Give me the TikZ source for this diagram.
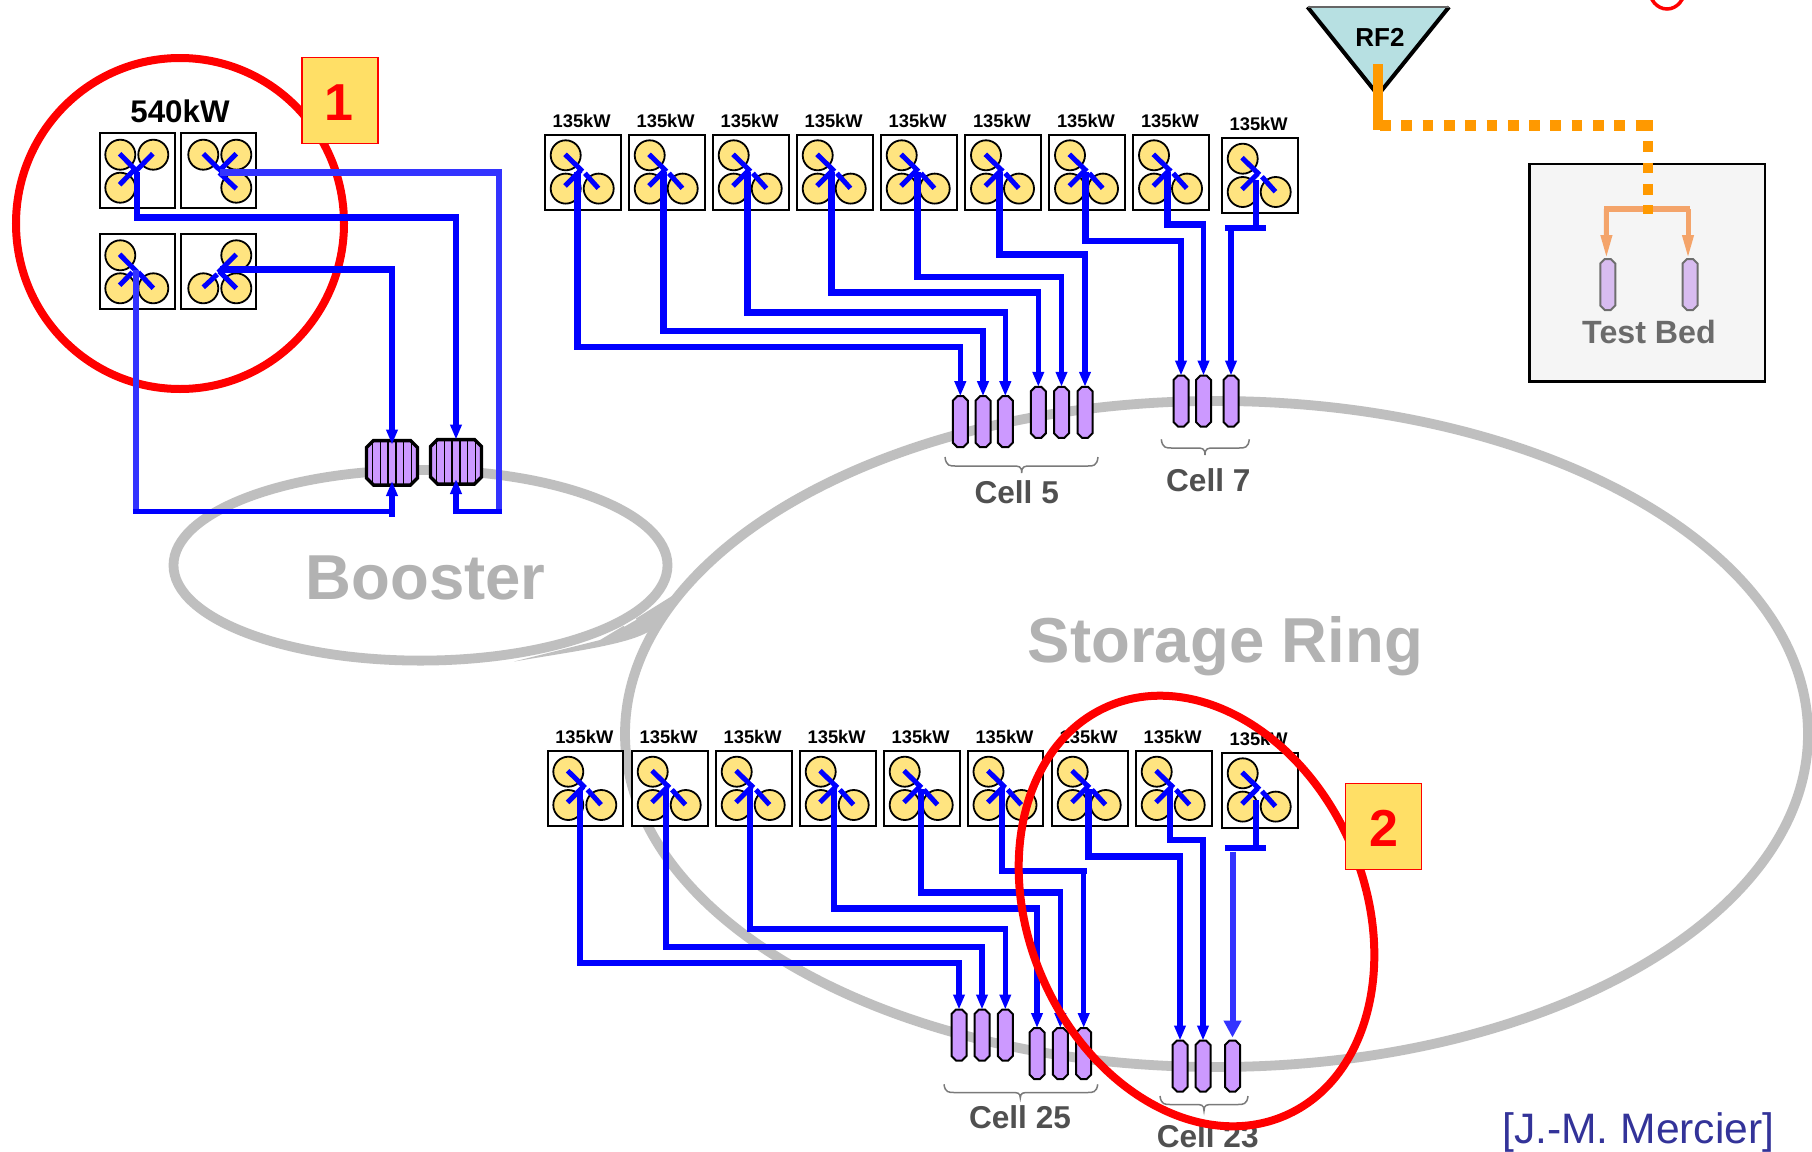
\documentclass[tikz,border=0pt]{standalone}
\usepackage{fontspec}
\setmainfont{Liberation Sans}
\usetikzlibrary{arrows.meta}
\definecolor{ringgrey}{HTML}{BFBFBF}
\definecolor{ringtext}{HTML}{B2B2B2}
\definecolor{bulbfill}{HTML}{FFE480}
\definecolor{violetfill}{HTML}{CC99FF}
\definecolor{palevioletfill}{HTML}{D8BCF0}
\definecolor{labelfill}{HTML}{FFDF66}
\definecolor{rffill}{HTML}{B7E0E2}
\definecolor{orangeline}{HTML}{FF9900}
\definecolor{paleorange}{HTML}{F4A46A}
\definecolor{pureblue}{HTML}{0000FF}
\definecolor{softblue}{HTML}{3333FF}
\definecolor{celltext}{HTML}{505050}
\tikzset{
  ring/.style={draw=ringgrey,line width=9.8pt},
  ringlabel/.style={anchor=base,inner sep=0pt,text=ringtext,font=\bfseries\fontsize{63.5pt}{70pt}\selectfont},
  unitbox/.style={draw=black,fill=white,line width=2pt,minimum width=75.5pt,minimum height=75pt,inner sep=0pt,outer sep=0pt},
  bulb/.style={draw=black,fill=bulbfill,line width=1.8pt},
  armline/.style={draw=pureblue,line width=5pt},
  kwlabel/.style={anchor=base,inner sep=0pt,font=\bfseries\fontsize{18.3pt}{20pt}\selectfont},
  cellpillar/.style={draw=black,fill=violetfill,line width=2pt,line join=miter},
  bedpillar/.style={draw=black!57,fill=palevioletfill,line width=2pt,line join=miter},
  bigpillar/.style={draw=black,fill=violetfill,line width=3.4pt,line join=miter},
  anchorbox/.style={inner sep=0pt,outer sep=0pt},
  ribline/.style={draw=black,line width=1.4pt},
  wirerun/.style={draw=pureblue,line width=6.4pt,line join=miter},
  wiredrop/.style={draw=pureblue,line width=5.5pt,-{Triangle[width=11pt,length=15pt]}},
  softrun/.style={draw=softblue,line width=6.4pt,line join=miter},
  celllabel/.style={anchor=base,inner sep=0pt,text=celltext,font=\bfseries\fontsize{31.6pt}{34pt}\selectfont},
  bracket/.style={draw=black!52,line width=1.5pt},
  numberbox/.style={draw=red,fill=labelfill,line width=1.5pt,minimum width=76pt,minimum height=86pt,inner sep=0pt},
  numbertext/.style={anchor=base,inner sep=0pt,text=red,font=\bfseries\fontsize{52pt}{56pt}\selectfont},
  redloop/.style={draw=red,line width=8pt},
  orangedots/.style={draw=orangeline,line width=10.7pt,dash pattern=on 10.7pt off 10.6pt},
  paleline/.style={draw=paleorange,line width=6.5pt,line join=miter},
  paledrop/.style={draw=paleorange,line width=5pt,-{Triangle[width=10.5pt,length=24pt]}},
}
% chamfered pillar: name, x, y, width, height, chamfer, style
\newcommand{\chamfernode}[7]{%
  \node[anchorbox,minimum width=#4 pt,minimum height=#5 pt] (#1) at (#2,#3) {};
  \begin{scope}[shift={(#2,#3)}]
    \draw[#7] (-#4/2+#6,-#5/2) -- (#4/2-#6,-#5/2) -- (#4/2,-#5/2+#6) -- (#4/2,#5/2-#6)
      -- (#4/2-#6,#5/2) -- (-#4/2+#6,#5/2) -- (-#4/2,#5/2-#6) -- (-#4/2,-#5/2+#6) -- cycle;
  \end{scope}}
% three-bulb module: name, left, top
\newcommand{\threemodule}[3]{%
  \begin{scope}[shift={(#2,#3)}]
    \node[unitbox] (#1) at (38.2,38.2) {};
    \node[kwlabel] (#1l) at (37,-7) {135kW};
    \draw[bulb] (21,21) circle[radius=15];
    \draw[bulb] (21,54.3) circle[radius=15];
    \draw[bulb] (54,54.3) circle[radius=15];
    \draw[armline] (20.3,20) -- (37.8,37);
    \draw[armline] (20.3,51.7) -- (36,36);
    \draw[armline] (40.2,39) -- (53.7,54);
  \end{scope}}
\newcommand{\bigmodule}[7]{%
  \begin{scope}[shift={(#2,#3)}]
    \node[unitbox] (#1) at (38.2,38.2) {};
    \draw[bulb] (#4) circle[radius=15];
    \draw[bulb] (#5) circle[radius=15];
    \draw[bulb] (#6) circle[radius=15];
    \draw[armline] #7;
  \end{scope}}
\newcommand{\cellbrace}[7]{% name x1 x2 xtip ytop ymid ybot
  \pgfmathsetmacro{\ba}{#2+1}\pgfmathsetmacro{\bb}{#2+5}\pgfmathsetmacro{\bc}{#2+10}
  \pgfmathsetmacro{\bd}{#4-9}\pgfmathsetmacro{\be}{#4-3}\pgfmathsetmacro{\bf}{#4+3}\pgfmathsetmacro{\bg}{#4+9}
  \pgfmathsetmacro{\bh}{#3-10}\pgfmathsetmacro{\bi}{#3-5}\pgfmathsetmacro{\bj}{#3-1}
  \draw[bracket] (#2,#5) .. controls (\ba,#6) and (\bb,#6) .. (\bc,#6) -- (\bd,#6)
     .. controls (\be,#6) and (#4,#6) .. (#4,#7) .. controls (#4,#6) and (\bf,#6) .. (\bg,#6)
     -- (\bh,#6) .. controls (\bi,#6) and (\bj,#6) .. (#3,#5);}
\begin{document}
\begin{tikzpicture}[x=1pt,y=-1pt]
\useasboundingbox (0,0) rectangle (1812,1151);
\clip (0,0) rectangle (1812,1151);
\fill[white] (0,0) rectangle (1812,1151);

% rings
\draw[ring] (420.5,565.3) ellipse [x radius=247,y radius=95.3];
\draw[ring] (1216.5,734) ellipse [x radius=591.5,y radius=333];
\fill[ringgrey] (514,661.5) .. controls (570,652) and (625,645) .. (648,632) -- (672,596) -- (640,616) -- (600,640) -- cycle;
\draw[draw=white,line width=1.4pt] (624,626) -- (636,619);
\node[ringlabel] (booster) at (425.6,599.3) {Booster};
\node[ringlabel] (storage) at (1225.5,662.8) {Storage Ring};

% red marks under the wires
\draw[redloop] (180,223.5) ellipse [x radius=164,y radius=165.5];
\draw[draw=red,line width=3.5pt] (1667,-12) ellipse [x radius=18,y radius=21];

% 540 kW group
\node[anchor=base,inner sep=0pt,font=\bfseries\fontsize{31.3pt}{34pt}\selectfont] (bigkw) at (180,122.5) {540kW};
\bigmodule{m1}{99.3}{132.7}{21,22}{54,22}{21,55}{(20.3,21) -- (37.5,38.5) (53.5,21) -- (36,39) (20.3,52) -- (37,35)}
\bigmodule{m2}{180.3}{132.7}{23,22}{56,22}{56,55}{(23,21) -- (38,36) (39,40) -- (56,56) (56,21) -- (38,39)}
\bigmodule{m3}{99.3}{233.3}{21,22}{21,55}{54,55}{(20.3,21) -- (37.5,38.5) (20.3,52) -- (33,39) (39,39) -- (54,55)}
\bigmodule{m4}{180.3}{233.3}{56,22}{23,55}{56,55}{(56,21) -- (38,39) (23,54) -- (37,41) (39,38) -- (56,55)}

% klystrons of the booster
\chamfernode{kA}{392}{462.8}{51}{44.5}{7}{bigpillar}
\chamfernode{kB}{456}{461.8}{51}{44.5}{7}{bigpillar}
\foreach \k in {1,...,6} {
  \draw[ribline] (365+7.7*\k,442) -- (365+7.7*\k,484.5);
  \draw[ribline] (429+7.7*\k,441) -- (429+7.7*\k,483.5);
}
\coordinate (b1) at (136.7,172);
\coordinate (b2) at (220,172.3);
\coordinate (b3) at (136,270);
\coordinate (b4) at (220,269.3);
\coordinate (outerA) at (499,172.3);
\coordinate (outerB) at (499,511.7);
\draw[wirerun] (b1) -- (b1 |- 0,217.3) -- ([xshift=3pt]kB |- 0,217.3);
\draw[wiredrop] (kB |- 0,217.3) -- (kB.north);
\draw[wirerun] (b4) -- ([xshift=3pt]kA |- b4);
\draw[wiredrop] (kA |- b4) -- ([yshift=-4pt]kA.north);
\draw[softrun] (b2) -- (outerA) -- ([yshift=-2.5pt]outerB);
\draw[wirerun,line width=5pt] ([xshift=3pt]outerB) -- ([xshift=-2.5pt]kB |- outerB);
\draw[softrun] (b3) -- (b3 |- outerB);
\draw[wirerun,line width=5pt] ([xshift=-3pt]b3 |- outerB) -- (kA |- outerB);
\draw[wiredrop] (kA |- 0,516.7) -- ([yshift=4pt]kA.south);
\draw[wiredrop] (kB |- 0,514.2) -- ([yshift=5pt]kB.south);

% upper row modules
\foreach \n/\x/\y in {u1/544.7/134.3,u2/628.7/134.3,u3/712.7/134.3,u4/796.7/134.3,u5/880.7/134.3,u6/965/134.3,u7/1049/134.3,u8/1133/134.3,u9/1221.7/137.7}
  {\threemodule{\n}{\x}{\y}}
% lower row modules
\foreach \n/\x/\y in {d1/547.3/750.7,d2/631.7/750.7,d3/715.7/750.7,d4/799.7/750.7,d5/883.7/750.7,d6/967.5/750.7,d7/1051.7/750.7,d8/1135.7/750.7,d9/1221.7/752.3}
  {\threemodule{\n}{\x}{\y}}

% pillars
\foreach \n/\x/\y in {c5a/960.3/421.7,c5b/983/421.7,c5c/1005.3/421.7,c5d/1038.3/412.3,c5e/1061.5/412.3,c5f/1085/412.3,c7a/1181/401,c7b/1203.5/401,c7c/1231/401,
  c25a/959/1035,c25b/982/1035,c25c/1005.3/1035,c25d/1037/1053.5,c25e/1060.3/1053.5,c25f/1083.7/1053.5,c23a/1180/1066,c23b/1203/1066,c23c/1232.5/1066}
  {\chamfernode{\n}{\x}{\y}{15}{51}{4.5}{cellpillar}}

% wires: name / start x / start y / run y / target pillar
\foreach \i/\x/\ya/\yb/\pp in {
  1/577.3/172/346.7/c5a, 2/663.3/172/330.7/c5b, 3/747.3/172/312.3/c5c,
  4/831.3/172/292.3/c5d, 5/917.3/172/276.7/c5e, 6/999.3/172/254.3/c5f,
  7/1085.3/172/240.7/c7a, 8/1167.3/172/224.3/c7b,
  11/580/789/962.7/c25a, 12/665.7/789/947/c25b, 13/750/789/928.7/c25c,
  14/834/789/908.3/c25d, 15/920.7/789/892.3/c25e, 16/1002/789/870.7/c25f,
  17/1088.3/789/856.3/c23a, 18/1170/789/840/c23b} {
  \coordinate (w\i) at (\x,\ya);
  \draw[wirerun] (w\i) -- (w\i |- 0,\yb) -- ([xshift=2.8pt]\pp |- 0,\yb);
  \draw[wiredrop] (\pp |- 0,\yb) -- (\pp.north);
}
% last modules: T-shaped feed
\coordinate (w9) at (1255.7,180);
\coordinate (w19) at (1256,800);
\coordinate (bar9a) at (1225,227.7);
\coordinate (bar9b) at (1266,227.7);
\coordinate (bar19a) at (1225,847.7);
\coordinate (bar19b) at (1266,847.7);
\draw[wirerun] (w9) -- (w9 |- bar9a);
\draw[wirerun] (bar9a) -- (bar9b);
\draw[wiredrop] (c7c |- bar9a) -- (c7c.north);
\draw[wirerun] (w19) -- (w19 |- bar19a);
\draw[wirerun] (bar19a) -- (bar19b);
\draw[draw=softblue,line width=6pt,-{Triangle[width=17pt,length=17pt]}] (c23c |- 0,851.7) -- ([yshift=3pt]c23c.north);

% braces and cell labels
\cellbrace{b5}{945}{1098}{1021.7}{457}{466}{473}
\cellbrace{b7}{1161.3}{1249.3}{1205}{439.3}{448}{455}
\cellbrace{b25}{944}{1097.7}{1020.3}{1084.3}{1092.5}{1098}
\cellbrace{b23}{1160}{1248}{1204}{1096}{1104.5}{1110.7}
\node[celllabel] (cell5) at (1016.7,503.5) {Cell 5};
\node[celllabel] (cell7) at (1208.3,491.5) {Cell 7};
\node[celllabel] (cell25) at (1020,1128) {Cell 25};
\node[celllabel] (cell23) at (1207.7,1147.3) {Cell 23};

% RF2 and test bed
\coordinate (rfleft) at (1307.5,7);
\coordinate (rfright) at (1449,7);
\coordinate (rfapex) at (1378,95);
\fill[rffill] (rfleft) -- (rfapex) -- (rfright) -- cycle;
\draw[draw=black,line width=4pt,line join=miter] (rfleft) -- (rfapex) -- (rfright);
\draw[draw=black!60,line width=1.5pt] (rfleft) -- (rfright);
\node[anchor=base,inner sep=0pt,font=\bfseries\fontsize{26pt}{28pt}\selectfont] (rflabel) at (1380,46.7) {RF2};
\node[draw=black,fill=black!4,line width=2.5pt,minimum width=235.6pt,minimum height=217.7pt,inner sep=0pt] (bedbox) at (1647.2,272.8) {};
\chamfernode{bed1}{1607.8}{284.5}{15}{51}{4.5}{bedpillar}
\chamfernode{bed2}{1690}{284.5}{15}{51}{4.5}{bedpillar}
\node[anchor=base,inner sep=0pt,text=black!58,font=\bfseries\fontsize{32.2pt}{34pt}\selectfont] (bedlabel) at (1649,343.3) {Test Bed};
\coordinate (rfout) at (1378,64);
\coordinate (rfcorner) at (1378,130);
\coordinate (dotstart) at (1380,125.5);
\coordinate (dotend) at (1653,125.5);
\coordinate (dotdownstart) at (1648,120);
\coordinate (split) at (1648,214);
\draw[paleline] (1604.4,209) -- (1690,209);
\draw[paledrop] (1606.4,209) -- ([xshift=-1.4pt]bed1.north);
\draw[paledrop] (1688,209) -- ([xshift=-2pt]bed2.north);
\draw[draw=orangeline,line width=9.2pt] (rfout) -- (rfcorner);
\draw[orangedots] (dotstart) -- (dotend);
\draw[orangedots] (dotdownstart) -- (split);

% red loop 2 over the wires
\draw[redloop,rotate around={-66.6:(1196.5,911)}] (1196.5,911) ellipse [x radius=223,y radius=168];

% numbered labels
\node[numberbox] (num1) at (340.2,100.5) {};
\node[numbertext] (num1t) at (338.5,120) {1};
\node[numberbox] (num2) at (1383.5,826.3) {};
\node[numbertext] (num2t) at (1383.8,846) {2};

\node[anchor=base,inner sep=0pt,text=blue!50!black!80!white,font=\fontsize{42.6pt}{46pt}\selectfont] (credit) at (1638.3,1143) {[J.-M. Mercier]};
\end{tikzpicture}
\end{document}
